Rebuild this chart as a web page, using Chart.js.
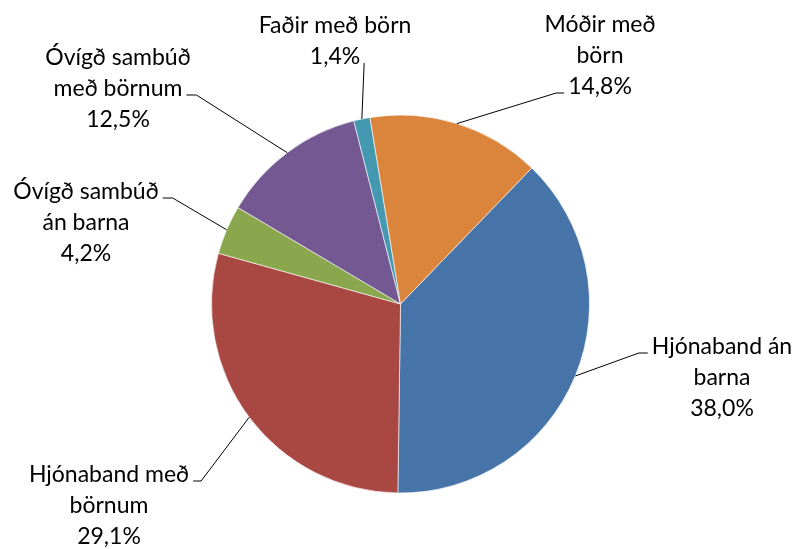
<!DOCTYPE html>
<html>
<head>
<meta charset="utf-8">
<script src="https://cdn.jsdelivr.net/npm/chart.js@4"></script>
<style>
html,body{margin:0;padding:0;background:#fff;}
#wrap{width:795px;height:549px;position:relative;}
</style>
</head>
<body>
<div id="wrap"><canvas id="c" width="795" height="549"></canvas></div>
<script>
const categories = ["Hjónaband án barna", "Hjónaband með börnum", "Óvígð sambúð án barna", "Óvígð sambúð með börnum", "Faðir með börn", "Móðir með börn"];
const values = [38.0, 29.1, 4.2, 12.5, 1.4, 14.8];
const labelLines = [
  ["Hjónaband án", "barna"],
  ["Hjónaband með", "börnum"],
  ["Óvígð sambúð", "án barna"],
  ["Óvígð sambúð", "með börnum"],
  ["Faðir með börn"],
  ["Móðir með", "börn"]
];
const colors = ["#4673A8", "#A94743", "#8AA74E", "#735892", "#4499B1", "#DA843C"];

// label layout: text block center x, first line center y, line to attach, side
const labelLayout = [
  {x: 722, y: 347, line: 0, side: "left", stub: 9},
  {x: 109, y: 475, line: 0, side: "right", stub: 8},
  {x: 86, y: 192, line: 0, side: "right", stub: 10},
  {x: 118, y: 58, line: 1, side: "right", stub: 10},
  {x: 335, y: 26, line: 1, side: "right", stub: 0},
  {x: 600, y: 25, line: 2, side: "left", stub: 8}
];

const FONT = '23px Lato, "Open Sans", sans-serif';
const LINE_H = 31;

function fmt(v){ return v.toFixed(1).replace('.', ',') + '%'; }

const labelPlugin = {
  id: 'outLabels',
  afterDatasetsDraw(chart){
    const ctx = chart.ctx;
    const meta = chart.getDatasetMeta(0);
    ctx.save();
    ctx.font = FONT;
    ctx.fillStyle = '#000';
    ctx.strokeStyle = '#000';
    ctx.lineWidth = 1;
    ctx.textAlign = 'center';
    ctx.textBaseline = 'middle';
    meta.data.forEach((arc, i) => {
      const lay = labelLayout[i];
      const lines = labelLines[i].concat([fmt(values[i])]);
      lines.forEach((t, k) => ctx.fillText(t, lay.x, lay.y + k * LINE_H));
      // leader
      const p = arc.getProps(['x','y','startAngle','endAngle','outerRadius'], true);
      const mid = (p.startAngle + p.endAngle) / 2;
      const ax = p.x + Math.cos(mid) * p.outerRadius;
      const ay = p.y + Math.sin(mid) * p.outerRadius;
      const w = ctx.measureText(lines[lay.line]).width;
      const ly = lay.y + lay.line * LINE_H + 6;
      let ex, sx;
      if (lay.side === 'left') { ex = lay.x - w / 2 - 4; sx = ex - lay.stub; }
      else { ex = lay.x + w / 2 + 4; sx = ex + lay.stub; }
      ctx.beginPath();
      ctx.moveTo(ex, ly);
      ctx.lineTo(sx, ly);
      ctx.lineTo(ax, ay);
      ctx.stroke();
    });
    ctx.restore();
  }
};

new Chart(document.getElementById('c'), {
  type: 'pie',
  data: {
    labels: categories,
    datasets: [{
      data: values,
      backgroundColor: colors,
      borderColor: 'rgba(255,255,255,0.6)',
      borderWidth: 1
    }]
  },
  options: {
    responsive: false,
    animation: false,
    rotation: 44,
    layout: {padding: {top: 114, bottom: 55, left: 211, right: 205}},
    plugins: {legend: {display: false}, tooltip: {enabled: false}}
  },
  plugins: [labelPlugin]
});
</script>
</body>
</html>
